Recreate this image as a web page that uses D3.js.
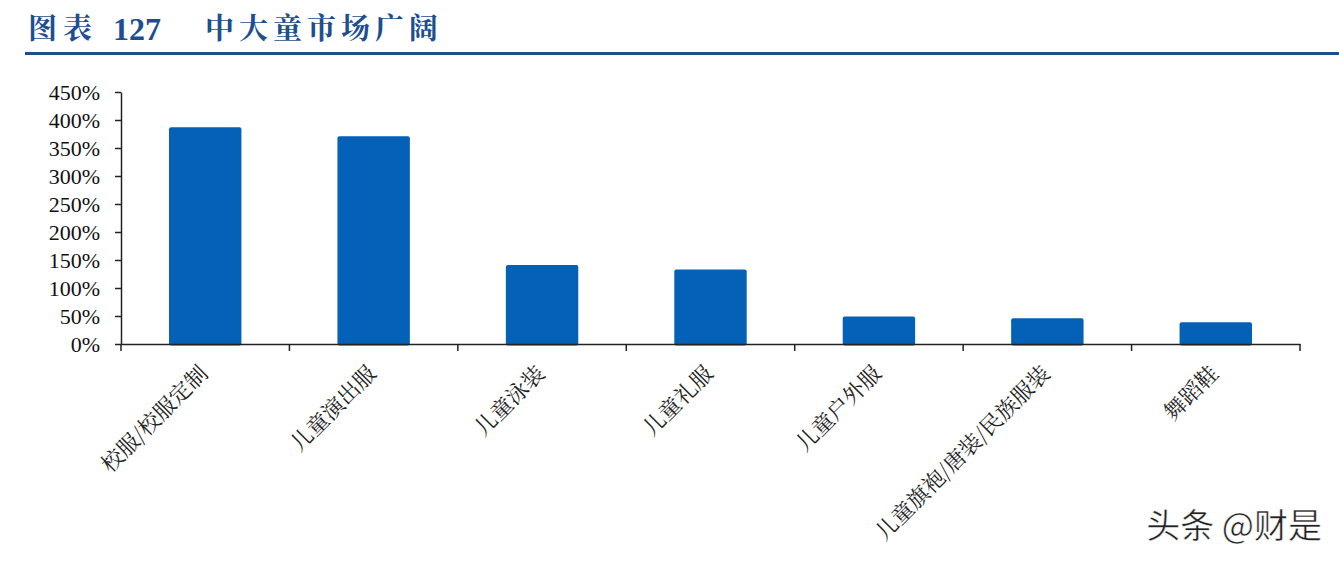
<!DOCTYPE html>
<html><head><meta charset="utf-8">
<script src="https://cdn.jsdelivr.net/npm/d3@7/dist/d3.min.js"></script>
<style>
body{margin:0;background:#fff;}
svg{display:block;}
</style></head>
<body>
<svg id="c" width="1339" height="562"></svg>
<script>
const categories = ["校服/校服定制","儿童演出服","儿童泳装","儿童礼服","儿童户外服","儿童旗袍/唐装/民族服装","舞蹈鞋"];
const values = [387, 371, 141, 133, 49, 46, 39];
const yTicks = [0,50,100,150,200,250,300,350,400,450];
const titleParts = ["图表", "127", "中大童市场广阔"];
const watermark = "头条 @财是";

const svg = d3.select("#c");
const m = {left:121, right:1300, top:92, bottom:344};
const serifCJK = "'Noto Serif CJK SC','Noto Sans CJK SC'";

// title
const tg = svg.append("g").attr("fill","#1d4f8f").attr("font-weight","bold");
tg.append("text").attr("x",28).attr("y",39).attr("font-family",serifCJK).attr("font-size",29).attr("letter-spacing",6).text(titleParts[0]);
tg.append("text").attr("x",113).attr("y",40).attr("font-family","'Liberation Serif'").attr("font-size",32).text(titleParts[1]);
tg.append("text").attr("x",205).attr("y",39).attr("font-family",serifCJK).attr("font-size",29).attr("letter-spacing",5).text(titleParts[2]);
svg.append("rect").attr("x",25).attr("y",52).attr("width",1314).attr("height",3).attr("fill","#1d4f8f");

const x = d3.scaleBand().domain(categories).range([m.left,m.right]).paddingInner(0.57).paddingOuter(0.285);
const y = d3.scaleLinear().domain([0,450]).range([m.bottom,m.top]);

// bars
svg.append("g").selectAll("rect").data(values).join("rect")
  .attr("x",(d,i)=>x(categories[i]))
  .attr("y",d=>y(d))
  .attr("width",x.bandwidth())
  .attr("height",d=>y(0)-y(d)+1.5)
  .attr("rx",2).attr("fill","#0560b7");

// y axis
const ya = svg.append("g").attr("transform",`translate(${m.left},0)`)
  .call(d3.axisLeft(y).tickValues(yTicks).tickFormat(d=>d+"%").tickSize(6).tickSizeOuter(0));
ya.select(".domain").attr("stroke","#222").attr("stroke-width",1.5);
ya.selectAll(".tick line").attr("stroke","#222").attr("stroke-width",1.5);
ya.selectAll(".tick text").attr("font-family","'Liberation Serif'").attr("font-size",22).attr("fill","#111").attr("x",-21);

// x axis
const xa = svg.append("g").attr("transform",`translate(0,${m.bottom})`)
  .call(d3.axisBottom(x).tickSize(0).tickSizeOuter(0));
xa.select(".domain").attr("stroke","#222").attr("stroke-width",1.5);
xa.selectAll(".tick text").remove();
// boundary ticks
const bounds = categories.map(c=>x(c)-x.step()*x.paddingInner()/2).concat([m.right]);
xa.selectAll(".bt").data(bounds).join("line").attr("class","bt")
  .attr("x1",d=>d).attr("x2",d=>d).attr("y1",0).attr("y2",7)
  .attr("stroke","#222").attr("stroke-width",1.5);
// labels
svg.append("g").selectAll("text").data(categories).join("text")
  .attr("transform",d=>`translate(${x(d)+x.bandwidth()/2+4},${m.bottom+31}) rotate(-45)`)
  .attr("text-anchor","end")
  .attr("font-family",serifCJK).attr("font-size",22).attr("fill","#222")
  .text(d=>d);

// watermark
svg.append("text").attr("x",1322).attr("y",538).attr("text-anchor","end")
  .attr("font-family","'Noto Sans CJK SC'").attr("font-size",34).attr("fill","#222")
  .attr("stroke","#fff").attr("stroke-width",0.5)
  .text(watermark);
</script>
</body></html>
